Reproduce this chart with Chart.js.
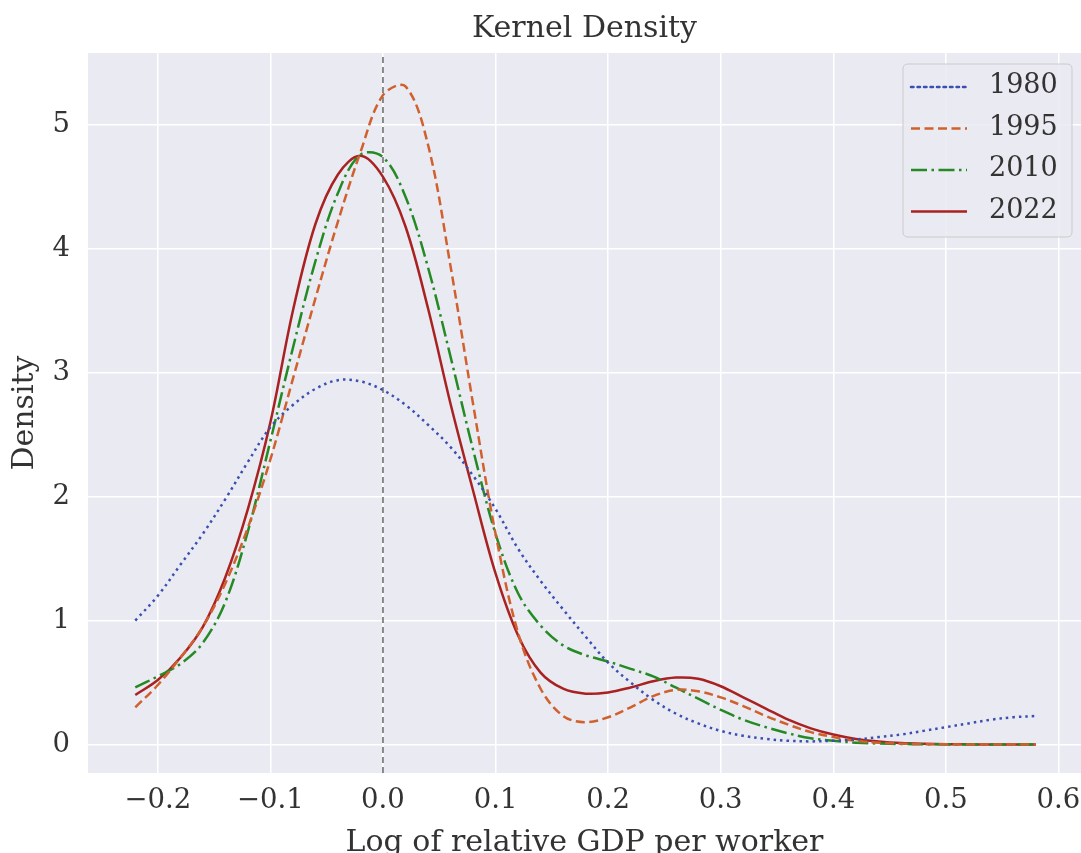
<!DOCTYPE html>
<html>
<head>
<meta charset="utf-8">
<script src="https://cdn.jsdelivr.net/npm/chart.js@4.4.0/dist/chart.umd.min.js"></script>
<style>
  body { margin: 0; background: #fff; }
  #kde { display: block; }
</style>
</head>
<body>
<canvas id="kde" width="1081" height="853"></canvas>
<script>
const gridX = [-0.22, -0.20, -0.18, -0.16, -0.14, -0.12, -0.10, -0.08, -0.06, -0.04, -0.02,
  0.00, 0.02, 0.04, 0.06, 0.08, 0.10, 0.12, 0.14, 0.16, 0.18, 0.20, 0.22, 0.24, 0.26, 0.28,
  0.30, 0.32, 0.34, 0.36, 0.38, 0.40, 0.42, 0.44, 0.46, 0.48, 0.50, 0.52, 0.54, 0.56, 0.58];

const years = ["1980", "1995", "2010", "2022"];

const dens1980 = [1.00, 1.20, 1.45, 1.70, 1.98, 2.28, 2.56, 2.74, 2.87, 2.94, 2.93,
  2.86, 2.74, 2.58, 2.40, 2.17, 1.90, 1.58, 1.32, 1.09, 0.87, 0.66, 0.50, 0.36, 0.25, 0.17,
  0.11, 0.07, 0.045, 0.03, 0.025, 0.03, 0.04, 0.06, 0.08, 0.11, 0.14, 0.17, 0.20, 0.22, 0.23];

const dens1995 = [0.30, 0.48, 0.70, 0.95, 1.30, 1.75, 2.30, 2.95, 3.60, 4.22, 4.78,
  5.24, 5.31, 4.84, 3.86, 2.75, 1.70, 0.90, 0.45, 0.23, 0.18, 0.22, 0.30, 0.39, 0.44, 0.43,
  0.38, 0.31, 0.23, 0.16, 0.10, 0.06, 0.03, 0.015, 0.007, 0.003, 0.001, 0, 0, 0, 0];

const dens2010 = [0.46, 0.55, 0.65, 0.82, 1.15, 1.72, 2.45, 3.20, 3.90, 4.45, 4.76,
  4.74, 4.42, 3.85, 3.13, 2.38, 1.70, 1.22, 0.96, 0.80, 0.72, 0.67, 0.61, 0.55, 0.46, 0.37,
  0.28, 0.20, 0.14, 0.09, 0.05, 0.03, 0.015, 0.008, 0.004, 0.002, 0.001, 0, 0, 0, 0];

const dens2022 = [0.40, 0.52, 0.70, 0.95, 1.35, 1.90, 2.60, 3.50, 4.20, 4.60, 4.75,
  4.58, 4.18, 3.52, 2.75, 2.05, 1.38, 0.88, 0.58, 0.45, 0.41, 0.42, 0.46, 0.51, 0.54, 0.53,
  0.47, 0.38, 0.29, 0.20, 0.13, 0.08, 0.045, 0.025, 0.012, 0.006, 0.003, 0.001, 0, 0, 0];

const xTicks = [-0.2, -0.1, 0.0, 0.1, 0.2, 0.3, 0.4, 0.5, 0.6];
const yTicks = [0, 1, 2, 3, 4, 5];
const xRange = [-0.262, 0.62];
const yRange = [-0.23, 5.58];

const serif = "'DejaVu Serif', serif";
const textColor = "#333333";
const tickSize = 27.5;

function pts(ys) {
  return gridX.map((x, i) => ({ x: x, y: ys[i] }));
}

const curves = [
  { label: years[0], data: pts(dens1980), borderColor: "#3a4fb0", borderDash: [2.5, 4], lineCap: "round" },
  { label: years[1], data: pts(dens1995), borderColor: "#d0612e", borderDash: [9, 4.5] },
  { label: years[2], data: pts(dens2010), borderColor: "#248a24", borderDash: [16, 4.5, 2.5, 4.5] },
  { label: years[3], data: pts(dens2022), borderColor: "#a82222", borderDash: [] },
];

curves.forEach((c) => {
  c.borderWidth = 2.5;
  c.pointRadius = 0;
  c.fill = false;
  c.tension = 0.35;
  c.isCurve = true;
});

// zero reference line
const zeroLine = {
  label: "zero",
  data: [{ x: 0, y: yRange[0] }, { x: 0, y: yRange[1] }],
  borderColor: "#7f7f7f",
  borderWidth: 1.8,
  borderDash: [6, 4],
  pointRadius: 0,
  isCurve: false,
};

const bgPlugin = {
  id: "bg",
  beforeDraw(chart) {
    const a = chart.chartArea;
    const ctx = chart.ctx;
    ctx.save();
    ctx.fillStyle = "#eaeaf2";
    ctx.fillRect(a.left, a.top, a.right - a.left, a.bottom - a.top);
    ctx.restore();
  },
};

// matplotlib style legend box in upper right
const boxLegend = {
  id: "boxLegend",
  afterDraw(chart) {
    const ctx = chart.ctx;
    const x0 = 903, y0 = 64, w = 169, h = 173, r = 5;
    ctx.save();
    ctx.beginPath();
    ctx.moveTo(x0 + r, y0);
    ctx.lineTo(x0 + w - r, y0);
    ctx.quadraticCurveTo(x0 + w, y0, x0 + w, y0 + r);
    ctx.lineTo(x0 + w, y0 + h - r);
    ctx.quadraticCurveTo(x0 + w, y0 + h, x0 + w - r, y0 + h);
    ctx.lineTo(x0 + r, y0 + h);
    ctx.quadraticCurveTo(x0, y0 + h, x0, y0 + h - r);
    ctx.lineTo(x0, y0 + r);
    ctx.quadraticCurveTo(x0, y0, x0 + r, y0);
    ctx.closePath();
    ctx.fillStyle = "rgba(234,234,242,0.85)";
    ctx.fill();
    ctx.strokeStyle = "#cccccc";
    ctx.lineWidth = 1;
    ctx.stroke();

    const rows = chart.data.datasets.filter((d) => d.isCurve);
    rows.forEach((d, i) => {
      const y = 87 + i * 41.5;
      ctx.beginPath();
      ctx.setLineDash(d.borderDash || []);
      ctx.lineCap = d.lineCap || "butt";
      ctx.strokeStyle = d.borderColor;
      ctx.lineWidth = d.borderWidth;
      ctx.moveTo(911, y);
      ctx.lineTo(967, y);
      ctx.stroke();
      ctx.setLineDash([]);
      ctx.fillStyle = textColor;
      ctx.font = "27px " + serif;
      ctx.textBaseline = "middle";
      ctx.textAlign = "left";
      ctx.fillText(d.label, 989, y - 1);
    });
    ctx.restore();
  },
};

const config = {
  type: "line",
  data: { datasets: [...curves, zeroLine] },
  options: {
    responsive: false,
    animation: false,
    layout: { padding: 0 },
    plugins: {
      legend: { display: false },
      tooltip: { enabled: false },
      title: {
        display: true,
        text: "Kernel Density",
        fullSize: false,
        color: textColor,
        font: { family: serif, size: 30, weight: "normal", lineHeight: 1.2 },
        padding: { top: 11, bottom: 6 },
      },
    },
    scales: {
      x: {
        type: "linear",
        min: xRange[0],
        max: xRange[1],
        afterBuildTicks: (s) => { s.ticks = xTicks.map((v) => ({ value: v })); },
        afterFit: (s) => {
          s.height = 80;
          s.paddingLeft = 0;
          s.paddingRight = 0;
        },
        grid: { color: "#ffffff", lineWidth: 1.5, drawTicks: false },
        border: { display: false },
        ticks: {
          autoSkip: false,
          maxRotation: 0,
          padding: 11,
          color: textColor,
          font: { family: serif, size: tickSize },
          callback: (v) => v.toFixed(1).replace("-", "\u2212"),
        },
        title: {
          display: true,
          text: "Log of relative GDP per worker",
          color: textColor,
          font: { family: serif, size: 30, lineHeight: 0.67 },
          padding: 0,
        },
      },
      y: {
        type: "linear",
        min: yRange[0],
        max: yRange[1],
        afterBuildTicks: (s) => { s.ticks = yTicks.map((v) => ({ value: v })); },
        afterFit: (s) => {
          s.width = 88;
          s.paddingTop = 0;
          s.paddingBottom = 0;
        },
        grid: { color: "#ffffff", lineWidth: 1.5, drawTicks: false },
        border: { display: false },
        ticks: {
          padding: 18,
          color: textColor,
          font: { family: serif, size: tickSize },
          callback: (v) => String(v),
        },
        title: {
          display: true,
          text: "Density",
          color: textColor,
          font: { family: serif, size: 30, lineHeight: 1.2 },
          padding: 7,
        },
      },
    },
  },
  plugins: [bgPlugin, boxLegend],
};

let kdeChart = new Chart(document.getElementById("kde"), config);
</script>
</body>
</html>
